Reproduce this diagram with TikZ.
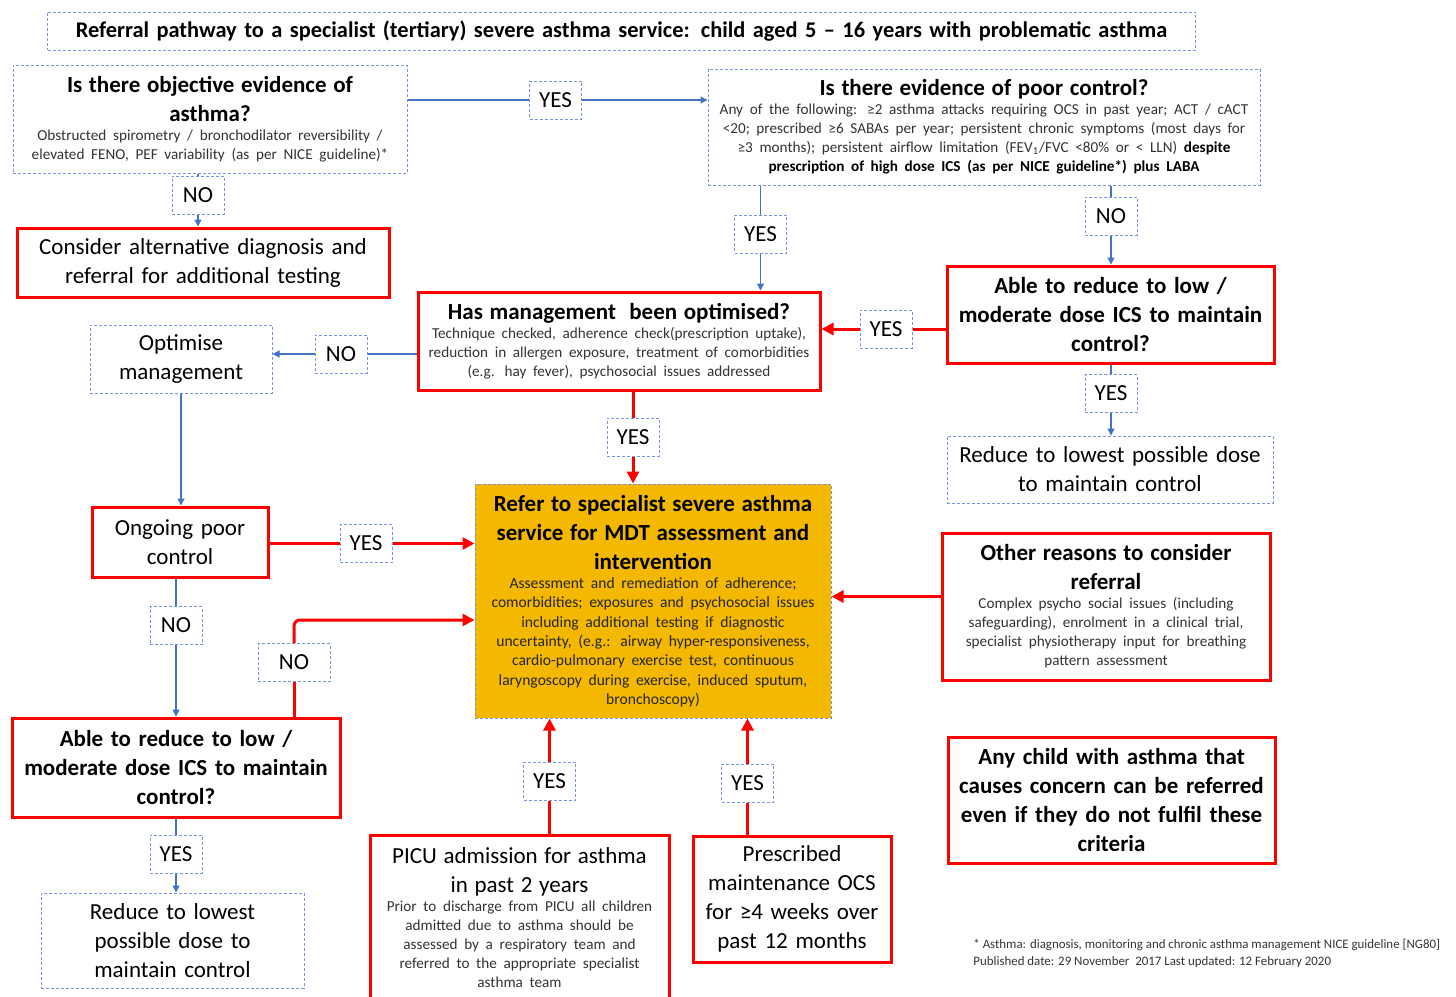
\documentclass[tikz,border=0pt]{standalone}
\usepackage{fontspec}
\setmainfont{Carlito}
\usetikzlibrary{arrows.meta,calc}

\definecolor{lineblue}{RGB}{68,114,196}
\definecolor{boxblue}{RGB}{120,150,215}
\definecolor{referfill}{RGB}{244,184,0}

\newcommand{\hdfont}{\fontsize{11.5}{14.5}\selectfont}
\newcommand{\smfont}{\fontsize{7.6}{9.5}\selectfont\color{black!80}}

\tikzset{
  bbox/.style={draw=boxblue, line width=0.5pt, dash pattern=on 1.5pt off 1pt, fill=white, align=center, inner sep=1pt},
  rbox/.style={draw=red, line width=1.5pt, fill=white, align=center, inner sep=1pt},
  yn/.style={bbox, minimum width=26pt, minimum height=19pt, font=\hdfont},
  bl/.style={draw=lineblue, line width=0.6pt},
  bla/.style={bl, -{Triangle[length=3.5pt,width=3.5pt]}},
  rd/.style={draw=red, line width=1.5pt},
  rda/.style={rd, -{Triangle[length=6pt,width=6pt]}}
}

\begin{document}
\begin{tikzpicture}[x=0.5pt,y=-0.5pt]
\useasboundingbox (0,0) rectangle (1456,996);

% Title
\node[bbox, text width=572pt, minimum height=19pt, font=\bfseries\fontsize{11.2}{13}\selectfont] (title) at (621.5,31)
  {Referral pathway to a specialist (tertiary) severe asthma service: child aged 5 -- 16 years with problematic asthma};

% Questions at the top
\node[bbox, text width=195pt, minimum height=54pt] (q1) at (210,119)
  {{\hdfont\bfseries Is there objective evidence of\\ asthma?\par}%
   {\smfont Obstructed spirometry / bronchodilator reversibility /\\ elevated FENO, PEF variability (as per NICE guideline)*\par}};
\node[bbox, text width=274pt, minimum height=58pt] (q2) at (984,127)
  {{\hdfont\bfseries Is there evidence of poor control?\par}%
   {\smfont Any of the following: ≥2 asthma attacks requiring OCS in past year; ACT / cACT\\
   <20; prescribed ≥6 SABAs per year; persistent chronic symptoms (most days for\\
   ≥3 months); persistent airflow limitation (FEV\textsubscript{1}/FVC <80\% or < LLN) \textbf{\color{black}despite}\\
   \textbf{\color{black}prescription of high dose ICS (as per NICE guideline*) plus LABA}\par}};

% Left column
\node[rbox, text width=184pt, minimum height=34.5pt, font=\hdfont] (consider) at (203,262.5)
  {Consider alternative diagnosis and\\ referral for additional testing};
\node[bbox, text width=89pt, minimum height=34pt, font=\hdfont] (optimise) at (181,359)
  {Optimise\\ management};
\node[rbox, text width=86pt, minimum height=35pt, font=\hdfont] (ongoing) at (180,542)
  {Ongoing poor\\ control};
\node[rbox, text width=162pt, minimum height=49.5pt, font=\hdfont\bfseries] (ableL) at (176,767.5)
  {Able to reduce to low /\\ moderate dose ICS to maintain\\ control?};
\node[bbox, text width=129.5pt, minimum height=47.5pt, font=\hdfont] (reduceL) at (172.5,940.5)
  {Reduce to lowest\\ possible dose to\\ maintain control};

% Middle column
\node[rbox, text width=199pt, minimum height=49pt] (hasm) at (619,341)
  {{\hdfont\bfseries Has management\ \ been optimised?\par}%
   {\smfont Technique checked, adherence check(prescription uptake),\\ reduction in allergen exposure, treatment of comorbidities\\ (e.g. hay fever), psychosocial issues addressed\par}};
\node[draw=boxblue, line width=0.5pt, dash pattern=on 1.5pt off 1pt, fill=referfill, align=center, inner sep=1pt,
  text width=176pt, minimum height=117pt] (refer) at (653,601)
  {{\hdfont\bfseries Refer to specialist severe asthma\\ service for MDT assessment and\\ intervention\par}%
   {\fontsize{7.8}{9.65}\selectfont\color{black!85}Assessment and remediation of adherence;\\ comorbidities; exposures and psychosocial issues\\
   including additional testing if diagnostic\\ uncertainty, (e.g.: airway hyper-responsiveness,\\ cardio-pulmonary exercise test, continuous\\
   laryngoscopy during exercise, induced sputum,\\ bronchoscopy)\par}};
\node[rbox, text width=147.5pt, minimum height=82.5pt] (picu) at (519.5,917.5)
  {{\hdfont PICU admission for asthma\\ in past 2 years\par}%
   {\smfont Prior to discharge from PICU all children\\ admitted due to asthma should be\\ assessed by a respiratory team and\\ referred to the appropriate specialist\\ asthma team\par}};
\node[rbox, text width=97pt, minimum height=63pt, font=\hdfont] (presc) at (792,899)
  {Prescribed\\ maintenance OCS\\ for ≥4 weeks over\\ past 12 months};

% Right column
\node[rbox, text width=161.5pt, minimum height=48.5pt, font=\hdfont\bfseries] (ableR) at (1110.5,314.5)
  {Able to reduce to low /\\ moderate dose ICS to maintain\\ control?};
\node[bbox, text width=161pt, minimum height=33.5pt, font=\hdfont] (reduceR) at (1110,469.5)
  {Reduce to lowest possible dose\\ to maintain control};
\node[rbox, text width=162pt, minimum height=73.5pt] (other) at (1106,606.5)
  {{\hdfont\bfseries Other reasons to consider\\ referral\par}%
   {\smfont Complex psycho social issues (including\\ safeguarding), enrolment in a clinical trial,\\ specialist physiotherapy input for breathing\\ pattern assessment\par}};
\node[rbox, text width=161.5pt, minimum height=63pt, font=\hdfont\bfseries] (anychild) at (1111.5,800)
  {Any child with asthma that\\ causes concern can be referred\\ even if they do not fulfil these\\ criteria};

% Footnote
\node[anchor=north west, align=left, inner sep=0pt, font=\fontsize{6.45}{8.5}\selectfont\color{black!80}] (note) at (973,939)
  {* Asthma: diagnosis, monitoring and chronic asthma management NICE guideline [NG80]\\
   Published date: 29 November\ \ 2017 Last updated: 12 February 2020};

% YES / NO labels
\node[yn] (yes1) at (555.5,100) {YES};
\node[yn] (no1) at (198,195) {NO};
\node[yn] (yes2) at (760.5,234) {YES};
\node[yn] (no2) at (1111,216) {NO};
\node[yn] (yes3) at (886,329) {YES};
\node[yn] (yes4) at (1111,393.5) {YES};
\node[yn] (no3) at (341,354) {NO};
\node[yn] (yes5) at (633,437) {YES};
\node[yn] (yes6) at (366,543.5) {YES};
\node[yn] (no4) at (176,625.5) {NO};
\node[yn, minimum width=36pt] (no5) at (294,662.5) {NO};
\node[yn] (yes7) at (176,854) {YES};
\node[yn] (yes8) at (549.5,781) {YES};
\node[yn] (yes9) at (747.5,783) {YES};

% Blue connectors
\draw[bl] (yes1 -| q1.east) -- (yes1);
\draw[bla] (yes1) -- (yes1 -| q2.west);
\draw[bl] (no1 |- q1.south) -- (no1);
\draw[bla] (no1) -- (no1 |- consider.north);
\draw[bl] (yes2 |- q2.south) -- (yes2);
\draw[bla] (yes2) -- (yes2 |- hasm.north);
\draw[bl] (no2 |- q2.south) -- (no2);
\draw[bla] (no2) -- (no2 |- ableR.north);
\draw[bl] (yes4 |- ableR.south) -- (yes4);
\draw[bla] (yes4) -- (yes4 |- reduceR.north);
\draw[bl] (no3 -| hasm.west) -- (no3);
\draw[bla] (no3) -- (no3 -| optimise.east);
\draw[bla] (optimise.south) -- (optimise.south |- ongoing.north);
\draw[bl] (no4 |- ongoing.south) -- (no4);
\draw[bla] (no4) -- (no4 |- ableL.north);
\draw[bl] (yes7 |- ableL.south) -- (yes7);
\draw[bla] (yes7) -- (yes7 |- reduceL.north);

% Red connectors
\draw[rd] (yes3 -| ableR.west) -- (yes3);
\draw[rda] (yes3) -- (yes3 -| hasm.east);
\draw[rd] (yes5 |- hasm.south) -- (yes5);
\draw[rda] (yes5) -- (yes5 |- refer.north);
\draw[rd] (yes6 -| ongoing.east) -- (yes6);
\draw[rda] (yes6) -- (yes6 -| refer.west);
\draw[rd] (no5 |- ableL.north) -- (no5);
\draw[rda, rounded corners=3pt] (no5) |- ([yshift=-9.5pt]refer.west);
\draw[rd] (yes8 |- picu.north) -- (yes8);
\draw[rda] (yes8) -- (yes8 |- refer.south);
\draw[rd] (yes9 |- presc.north) -- (yes9);
\draw[rda] (yes9) -- (yes9 |- refer.south);
\draw[rda] ([yshift=5pt]other.west) -- ([yshift=5pt]other.west -| refer.east);

\end{tikzpicture}
\end{document}
